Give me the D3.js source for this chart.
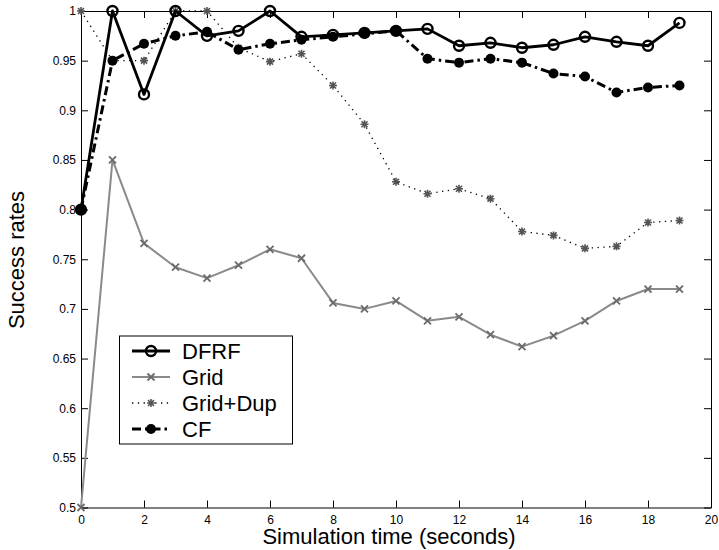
<!DOCTYPE html>
<html>
<head>
<meta charset="utf-8">
<script src="https://cdn.jsdelivr.net/npm/d3@7"></script>
<style>
  body { margin: 0; background: #fff; }
  svg { display: block; font-family: "Liberation Sans", Arial, Helvetica, sans-serif; }
</style>
</head>
<body>
<div id="chart"></div>
<script>
// simulation time (seconds)
var times = [0, 1, 2, 3, 4, 5, 6, 7, 8, 9, 10, 11, 12, 13, 14, 15, 16, 17, 18, 19];

var dfrf = [0.800, 1.000, 0.916, 1.000, 0.975, 0.980, 1.000, 0.974, 0.976, 0.978,
            0.980, 0.982, 0.965, 0.968, 0.963, 0.966, 0.974, 0.969, 0.965, 0.988];
var grid = [0.500, 0.850, 0.766, 0.742, 0.731, 0.744, 0.760, 0.751, 0.706, 0.700,
            0.708, 0.688, 0.692, 0.674, 0.662, 0.673, 0.688, 0.708, 0.720, 0.720];
var gridDup = [1.000, 0.950, 0.950, 1.000, 1.000, 0.963, 0.949, 0.957, 0.925, 0.886,
               0.828, 0.816, 0.821, 0.811, 0.778, 0.774, 0.761, 0.763, 0.787, 0.789];
var cf = [0.800, 0.950, 0.967, 0.975, 0.979, 0.961, 0.967, 0.971, 0.974, 0.977,
          0.980, 0.952, 0.948, 0.952, 0.948, 0.937, 0.934, 0.918, 0.923, 0.925];

var xTicks = [0, 2, 4, 6, 8, 10, 12, 14, 16, 18, 20];
var yTicks = [0.5, 0.55, 0.6, 0.65, 0.7, 0.75, 0.8, 0.85, 0.9, 0.95, 1];

var seriesNames = ['DFRF', 'Grid', 'Grid+Dup', 'CF'];

var width = 719, height = 550;
var plotLeft = 81, plotRight = 711, plotTop = 11, plotBottom = 507.5;

var x = d3.scaleLinear().domain([0, 20]).range([plotLeft, plotRight]);
var y = d3.scaleLinear().domain([0.5, 1]).range([plotBottom, plotTop]);

var svg = d3.select('#chart').append('svg')
    .attr('width', width)
    .attr('height', height);

// series styles
var styles = {
    'DFRF':     { values: dfrf,    color: '#000', width: 2.8, dash: null,        marker: 'circle' },
    'Grid':     { values: grid,    color: '#8a8a8a', width: 2, dash: null,       marker: 'x' },
    'Grid+Dup': { values: gridDup, color: '#000', width: 1.3, dash: '1.3,4.5',   marker: 'star' },
    'CF':       { values: cf,      color: '#000', width: 3, dash: '9,4,2.5,4',   marker: 'dot' }
};

function drawMarker(g, type, cx, cy) {
    if (type === 'circle') {
        g.append('circle').attr('cx', cx).attr('cy', cy).attr('r', 5)
            .attr('fill', 'none').attr('stroke', '#000').attr('stroke-width', 2.4);
    } else if (type === 'dot') {
        g.append('circle').attr('cx', cx).attr('cy', cy).attr('r', 5)
            .attr('fill', '#000');
    } else if (type === 'x') {
        var s = 3.5;
        g.append('path')
            .attr('d', 'M' + (cx - s) + ',' + (cy - s) + 'L' + (cx + s) + ',' + (cy + s) +
                       'M' + (cx - s) + ',' + (cy + s) + 'L' + (cx + s) + ',' + (cy - s))
            .attr('stroke', '#6a6a6a').attr('stroke-width', 1.8).attr('fill', 'none');
    } else if (type === 'star') {
        var s = 4, d = 3;
        g.append('path')
            .attr('d', 'M' + (cx - s) + ',' + cy + 'L' + (cx + s) + ',' + cy +
                       'M' + cx + ',' + (cy - s) + 'L' + cx + ',' + (cy + s) +
                       'M' + (cx - d) + ',' + (cy - d) + 'L' + (cx + d) + ',' + (cy + d) +
                       'M' + (cx - d) + ',' + (cy + d) + 'L' + (cx + d) + ',' + (cy - d))
            .attr('stroke', '#555').attr('stroke-width', 1.6).attr('fill', 'none');
    }
}

// axes (matlab style box, ticks pointing inward)
var fmt = function (d) { return String(+d.toFixed(2)); };

var axes = svg.append('g').attr('class', 'axes');
axes.append('g')
    .attr('transform', 'translate(0,' + plotBottom + ')')
    .call(d3.axisBottom(x).tickValues(xTicks).tickSize(-7).tickSizeOuter(0).tickPadding(8).tickFormat(fmt));
axes.append('g')
    .attr('transform', 'translate(' + plotLeft + ',0)')
    .call(d3.axisLeft(y).tickValues(yTicks).tickSize(-7).tickSizeOuter(0).tickPadding(5).tickFormat(fmt));
axes.append('g')
    .attr('transform', 'translate(0,' + plotTop + ')')
    .call(d3.axisTop(x).tickValues(xTicks).tickSize(-7).tickSizeOuter(0).tickFormat(''));
axes.append('g')
    .attr('transform', 'translate(' + plotRight + ',0)')
    .call(d3.axisRight(y).tickValues(yTicks).tickSize(-7).tickSizeOuter(0).tickFormat(''));

axes.selectAll('g')
    .attr('font-size', 12)
    .attr('font-family', '"Liberation Sans", Arial, sans-serif');
axes.selectAll('.tick text').attr('fill', '#000');
axes.selectAll('.domain, .tick line').attr('stroke', '#000').attr('stroke-width', 1);

// lines
var line = d3.line()
    .x(function (d, i) { return x(times[i]); })
    .y(function (d) { return y(d); });

var order = ['Grid', 'Grid+Dup', 'CF', 'DFRF'];
order.forEach(function (name) {
    var st = styles[name];
    var g = svg.append('g');
    g.append('path')
        .datum(st.values)
        .attr('d', line)
        .attr('fill', 'none')
        .attr('stroke', st.color)
        .attr('stroke-width', st.width)
        .attr('stroke-linejoin', 'round')
        .attr('stroke-dasharray', st.dash);
    st.values.forEach(function (v, i) {
        drawMarker(g, st.marker, x(times[i]), y(v));
    });
});

// axis labels
svg.append('text')
    .attr('x', 389)
    .attr('y', 544)
    .attr('text-anchor', 'middle')
    .attr('font-size', 22)
    .text('Simulation time (seconds)');

svg.append('text')
    .attr('transform', 'translate(24,260) rotate(-90)')
    .attr('text-anchor', 'middle')
    .attr('font-size', 22)
    .text('Success rates');

// legend
var legend = svg.append('g');
legend.append('rect')
    .attr('x', 119.5).attr('y', 336)
    .attr('width', 173).attr('height', 108)
    .attr('fill', '#fff').attr('stroke', '#000').attr('stroke-width', 1);

seriesNames.forEach(function (name, i) {
    var st = styles[name];
    var ly = 351 + i * 26;
    legend.append('line')
        .attr('x1', 132).attr('x2', 170)
        .attr('y1', ly).attr('y2', ly)
        .attr('stroke', st.color)
        .attr('stroke-width', st.width)
        .attr('stroke-dasharray', st.dash);
    drawMarker(legend, st.marker, 151, ly);
    legend.append('text')
        .attr('x', 182)
        .attr('y', ly + 8)
        .attr('font-size', 22)
        .text(name);
});
</script>
</body>
</html>
